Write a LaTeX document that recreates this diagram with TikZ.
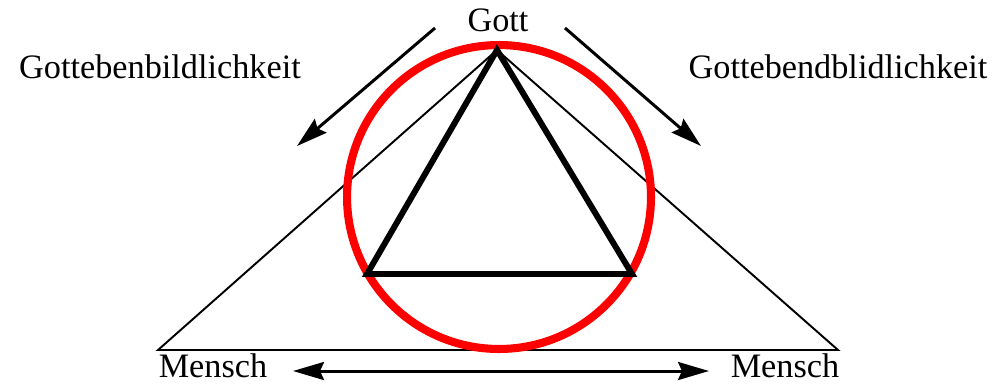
\documentclass[tikz,border=0pt]{standalone}
\usepackage{fontspec}
\setmainfont{Liberation Serif}
\usepackage{tikz}
\usetikzlibrary{arrows.meta,positioning,calc}

\begin{document}
\begin{tikzpicture}[
    x=0.02cm, y=-0.02cm,
    label/.style={inner sep=0pt, font=\fontsize{19.5}{23}\selectfont},
    ring/.style={draw=red, line width=4.6pt},
    inner/.style={draw=black, line width=3.4pt, line join=miter},
    outer/.style={draw=black, line width=1.1pt},
    pointer/.style={line width=1.7pt, -{Stealth[length=0.62cm, width=0.36cm, inset=0.08cm]}},
    both/.style={line width=1.7pt, {Stealth[length=0.62cm, width=0.36cm, inset=0.08cm]}-{Stealth[length=0.62cm, width=0.36cm, inset=0.08cm]}}
]
    \useasboundingbox (0,0) rectangle (999,383);

    % corners
    \coordinate (top) at (497,50);
    \coordinate (il) at (367,274);
    \coordinate (ir) at (632,274);
    \coordinate (ol) at (158,350);
    \coordinate (or) at (838,350);
    \coordinate (ctr) at (499,197);

    \node[label] (gott) at (498,20) {Gott};
    \node[label] (bildL) at (160,67) {Gottebenbildlichkeit};
    \node[label] (bildR) at (838,67) {Gottebendblidlichkeit};
    \node[label] (menschL) at (213,366) {Mensch};
    \node[label] (menschR) at (785,366) {Mensch};

    % arrow ends
    \coordinate (aL0) at (435,28);
    \coordinate (aL1) at (297,146);
    \coordinate (aR0) at (565,28);
    \coordinate (aR1) at (701,146);
    \coordinate (aB0) at (293,371);
    \coordinate (aB1) at (709,371);

    \draw[outer] (top) -- (ol) -- (or) -- cycle;
    \draw[ring] (ctr) circle[radius=3.04cm];
    \draw[inner] (top) -- (il) -- (ir) -- cycle;

    \draw[pointer] (aL0) -- (aL1);
    \draw[pointer] (aR0) -- (aR1);
    \draw[both] (aB0) -- (aB1);
\end{tikzpicture}
\end{document}
